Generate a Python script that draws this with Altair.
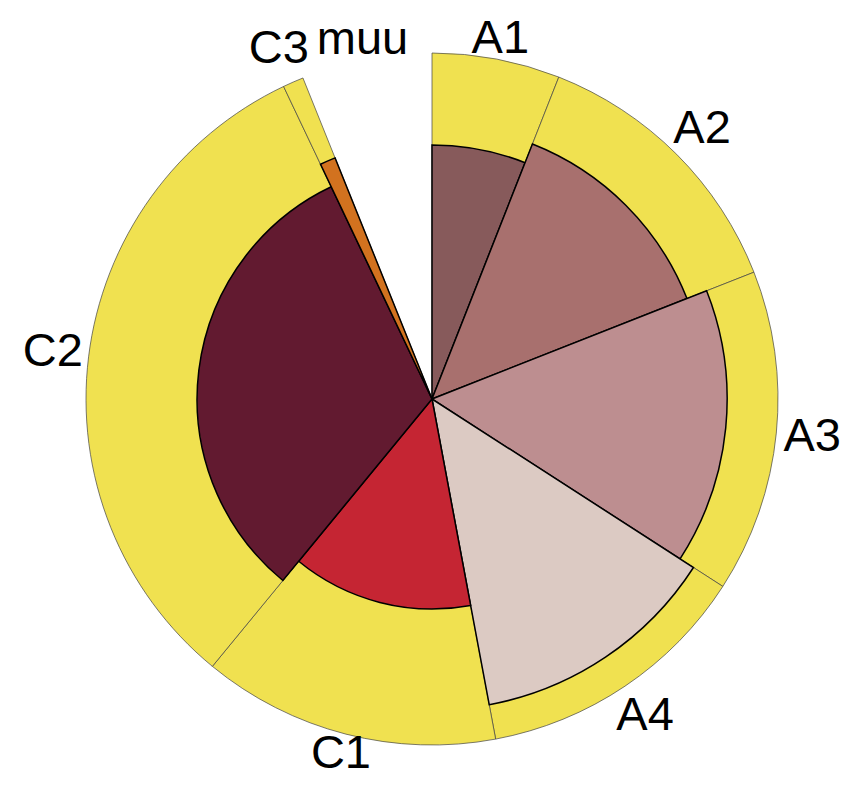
import altair as alt
import pandas as pd

categories = ["A1", "A2", "A3", "A4", "C1", "C2", "C3", "muu"]
sizes = [21.5, 47.0, 54.3, 46.6, 50.0, 115.2, 3.5, 21.9]
inner_values = [73.4, 79.2, 85.3, 89.9, 60.7, 67.9, 75.1, 0]
outer_values = [100, 100, 100, 100, 100, 100, 100, 0]
inner_colors = ["#875a5b", "#a8706e", "#bd8e90", "#dccac3", "#c52533", "#621a30", "#d2721f", "#ffffff"]

df = pd.DataFrame({
    "cat": categories,
    "size": sizes,
    "inner": inner_values,
    "outer": outer_values,
    "idx": list(range(len(categories))),
})

rscale = alt.Scale(type="linear", domain=[0, 100], range=[0, 346], zero=True)
tscale = alt.Scale(type="linear", domain=[0, 360], range=[0, 6.283185307179586])
cscale = alt.Scale(domain=categories, range=inner_colors)
cx = alt.value(424)
cy = alt.value(391)

base = alt.Chart(df).transform_window(
    cum="sum(size)", sort=[alt.SortField("idx", order="ascending")]
).transform_calculate(
    start="datum.cum - datum.size",
    mid="datum.cum - datum.size / 2",
).transform_calculate(
    lr="abs(cos(datum.mid * PI / 180)) > 0.95 ? 105.8 : 110.4"
)

outer = base.mark_arc(fill="#f0e150", stroke="#444444", strokeWidth=0.7).encode(
    theta=alt.Theta("start:Q", scale=tscale),
    theta2="cum:Q",
    x=cx, y=cy,
    radius=alt.Radius("outer:Q", scale=rscale, stack=False),
)

inner = base.transform_filter("datum.inner > 0").mark_arc(stroke="#000000", strokeWidth=1.5).encode(
    theta=alt.Theta("start:Q", scale=tscale),
    theta2="cum:Q",
    x=cx, y=cy,
    radius=alt.Radius("inner:Q", scale=rscale, stack=False),
    color=alt.Color("cat:N", scale=cscale, legend=None),
)

labels = base.mark_text(
    font="Liberation Sans", fontSize=47, align="center", baseline="middle", color="#000000"
).encode(
    theta=alt.Theta("mid:Q", scale=tscale),
    radius=alt.Radius("lr:Q", scale=rscale, stack=False),
    x=cx, y=cy,
    text="cat:N",
)

chart = alt.layer(outer, inner, labels).properties(
    width=834, height=771, padding=0, autosize=alt.AutoSizeParams(type="none")
).configure_view(stroke=None)

chart.save("out.html", embed_options={"renderer": "svg", "actions": False})
